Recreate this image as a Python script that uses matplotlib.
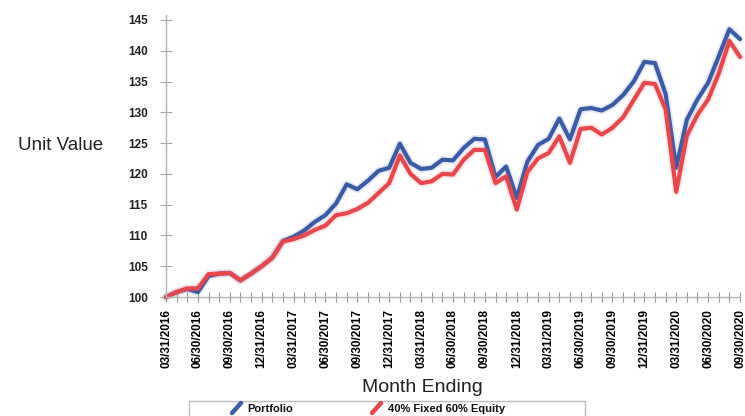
import numpy as np
import pandas as pd
import matplotlib
matplotlib.use("Agg")
import matplotlib.pyplot as plt
from matplotlib.lines import Line2D
from matplotlib.patches import Rectangle

# ── Data ──────────────────────────────────────────────────────────────────────
month_ends = pd.date_range("2016-03-31", "2020-09-30", freq="ME")
tick_labels = [d.strftime("%m/%d/%Y") for d in month_ends]

portfolio = [
    100.0, 100.8, 101.3, 100.8, 103.4, 103.8, 103.9, 102.7, 103.8, 105.0,
    106.4, 109.1, 109.8, 110.8, 112.2, 113.3, 115.2, 118.3, 117.5, 118.9,
    120.5, 121.0, 124.9, 121.8, 120.8, 121.0, 122.3, 122.2, 124.2, 125.7,
    125.6, 119.5, 121.2, 116.1, 122.0, 124.7, 125.7, 129.0, 125.6, 130.5,
    130.7, 130.3, 131.2, 132.8, 135.0, 138.2, 138.0, 133.0, 121.0, 128.8,
    132.1, 134.8, 139.1, 143.5, 141.9,
]
benchmark = [
    100.0, 100.8, 101.4, 101.4, 103.7, 103.8, 103.9, 102.7, 103.8, 105.0,
    106.4, 109.0, 109.4, 110.0, 110.9, 111.6, 113.3, 113.6, 114.3, 115.3,
    116.9, 118.5, 123.0, 120.0, 118.5, 118.8, 120.0, 119.9, 122.3, 123.9,
    123.9, 118.5, 119.6, 114.2, 120.3, 122.5, 123.4, 126.1, 121.8, 127.3,
    127.5, 126.4, 127.5, 129.2, 132.0, 134.8, 134.6, 130.5, 117.1, 126.2,
    129.6, 132.1, 136.3, 141.6, 139.0,
]
series_names = ["Portfolio", "40% Fixed 60% Equity"]
series_colors = ["#3a5ca8", "#e9464b"]

y_ticks = list(range(100, 146, 5))

# ── Figure ────────────────────────────────────────────────────────────────────
W, H = 745, 416
plt.rcParams["font.family"] = ["Liberation Sans", "DejaVu Sans"]
fig = plt.figure(figsize=(W / 100, H / 100), dpi=100)

def fx(px):
    return px / W

def fy(py):
    return 1 - py / H

ax_left, ax_right = 166, 740
ax_top, ax_bottom = 20, 297
ax = fig.add_axes([fx(ax_left), fy(ax_bottom),
                   fx(ax_right - ax_left), (ax_bottom - ax_top) / H])

x = np.arange(len(month_ends))
for vals, col in zip([portfolio, benchmark], series_colors):
    # soft halo underneath the main stroke
    ax.plot(x, vals, color=col, lw=5.5, alpha=0.13, solid_capstyle="round",
            solid_joinstyle="round", clip_on=False)
    ax.plot(x, vals, color=col, lw=3.0, solid_joinstyle="round",
            solid_capstyle="round", clip_on=False)

ax.set_xlim(0, len(month_ends) - 1)
ax.set_ylim(100, 145)

ax.set_xticks(x)
ax.set_xticklabels([lab if i % 3 == 0 else "" for i, lab in enumerate(tick_labels)],
                   rotation=90, fontsize=8.5, fontweight="bold")
ax.set_yticks(y_ticks)
ax.set_yticklabels([str(v) for v in y_ticks], fontsize=8.5, fontweight="bold",
                   color="#222222")

ax.tick_params(axis="x", direction="inout", length=7, width=0.8,
               color="#9a9a9a", pad=5)
ax.tick_params(axis="y", direction="inout", length=8, width=0.8,
               color="#a8a8a8", pad=9)

for side in ["top", "right"]:
    ax.spines[side].set_visible(False)
for side in ["left", "bottom"]:
    ax.spines[side].set_color("#b5b5b5")
    ax.spines[side].set_linewidth(1.0)
ax.spines["left"].set_bounds(100, 145.8)

# ── Axis titles ───────────────────────────────────────────────────────────────
fig.text(fx(18), fy(146), "Unit Value", fontsize=13.5, ha="left", va="center",
         color="#222222")
fig.text(fx(422), fy(388), "Month Ending", fontsize=14, ha="center",
         va="center", color="#222222")

# ── Legend box ────────────────────────────────────────────────────────────────
fig.patches.append(Rectangle((fx(189), fy(430)), fx(585 - 189), (430 - 401) / H,
                             transform=fig.transFigure, facecolor="white",
                             edgecolor="#bdbdbd", lw=1.0))
legend_x = [(232, 247), (372, 388)]
for (ix, tx), name, col in zip(legend_x, series_names, series_colors):
    fig.lines.append(Line2D([fx(ix), fx(ix + 9)], [fy(413), fy(403)],
                            transform=fig.transFigure, color=col, lw=3.2,
                            solid_capstyle="round"))
    fig.text(fx(tx), fy(409), name, fontsize=8, fontweight="bold",
             ha="left", va="center", color="#111111")

fig.savefig("out.png", dpi=100)
plt.close(fig)
